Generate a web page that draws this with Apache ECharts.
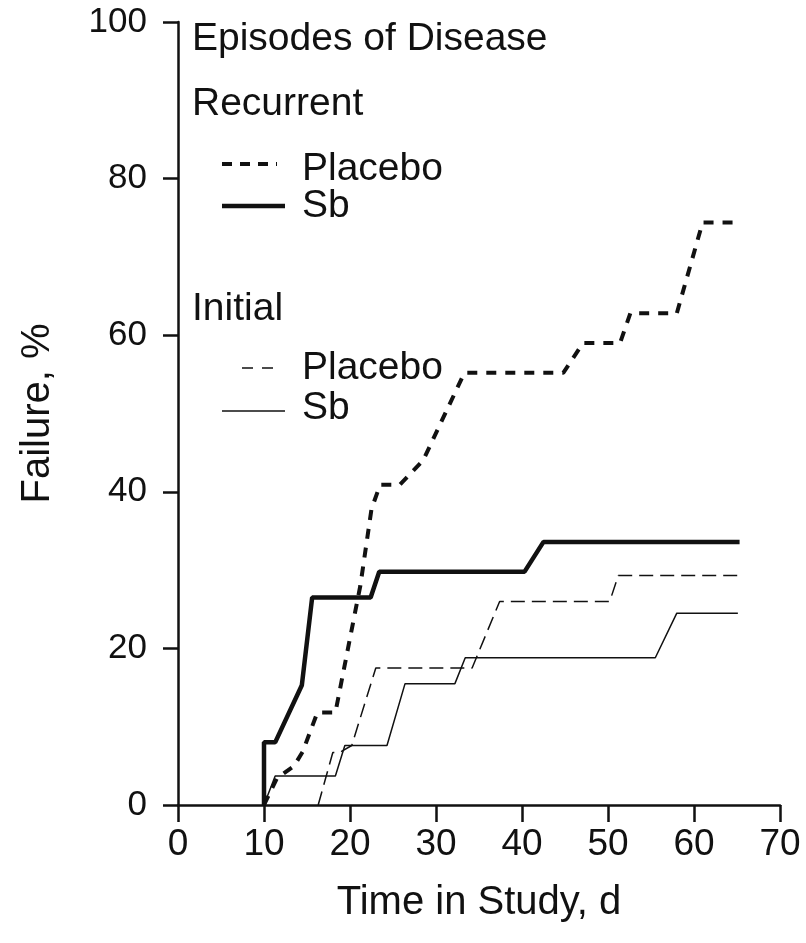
<!DOCTYPE html>
<html>
<head>
<meta charset="utf-8">
<title>Episodes of Disease</title>
<script src="https://cdn.jsdelivr.net/npm/echarts@6/dist/echarts.min.js"></script>
<style>
  html, body { margin: 0; padding: 0; background: #fff; }
  #chart { width: 806px; height: 943px; }
</style>
</head>
<body>
<div id="chart"></div>
<script>
  // values (day, failure %)
  const recurrentPlaceboDays = [10, 11.5, 13.5, 14.5, 16.2, 18.3, 21.2, 22.5, 23.5, 25.8, 28.5, 33.3, 44.8, 47.1, 51.4, 52.6, 58, 61, 65.3];
  const recurrentPlaceboFail = [0, 3.4, 5, 6.8, 11.8, 11.8, 28, 37.8, 40.9, 40.9, 44, 55.2, 55.2, 59, 59, 62.8, 62.8, 74.4, 74.4];

  const recurrentSbDays = [10, 10, 11.3, 14.4, 15.6, 22.4, 23.4, 40.3, 42.5, 65.3];
  const recurrentSbFail = [0, 8, 8, 15.3, 26.5, 26.5, 29.8, 29.8, 33.6, 33.6];

  const initialPlaceboDays = [16.3, 18, 18.8, 20.2, 23, 34.2, 37.4, 50.2, 51.2, 65.1];
  const initialPlaceboFail = [0, 6.7, 6.7, 7.6, 17.5, 17.5, 26, 26, 29.3, 29.3];

  const initialSbDays = [10, 11.3, 18.3, 19.4, 24.3, 26.4, 32.2, 33.4, 55.5, 58, 65.1];
  const initialSbFail = [0, 3.7, 3.7, 7.6, 7.6, 15.5, 15.5, 18.8, 18.8, 24.5, 24.5];

  const xTicks = [0, 10, 20, 30, 40, 50, 60, 70];
  const yTicks = [0, 20, 40, 60, 80, 100];

  const font = '"Liberation Sans", Arial, Helvetica, sans-serif';
  const ink = '#111';

  function pairs(xs, ys) {
    return xs.map(function (x, i) { return [x, ys[i]]; });
  }

  let chart = echarts.init(document.getElementById('chart'));

  // legend is hand placed, like the printed figure
  let legendText = function (txt, x, y) {
    return {
      type: 'text', x: x, y: y,
      style: { text: txt, font: '39px ' + font, fill: ink, verticalAlign: 'middle' }
    };
  };
  let legendLine = function (x1, x2, y, width, dash) {
    return {
      type: 'line',
      shape: { x1: x1, y1: y, x2: x2, y2: y },
      style: { stroke: ink, lineWidth: width, lineDash: dash || null }
    };
  };

  let option = {
    backgroundColor: '#fff',
    animation: false,
    grid: { left: 178, right: 26, top: 22, bottom: 138, containLabel: false },
    xAxis: {
      type: 'value',
      min: xTicks[0],
      max: xTicks[xTicks.length - 1],
      interval: 10,
      name: 'Time in Study, d',
      nameLocation: 'middle',
      nameGap: 78,
      nameTextStyle: { fontFamily: font, fontSize: 40, color: ink },
      axisLine: { lineStyle: { color: ink, width: 2.5 } },
      axisTick: { length: 17, lineStyle: { color: ink, width: 2.5 } },
      axisLabel: { margin: 21, fontFamily: font, fontSize: 37, color: ink },
      splitLine: { show: false }
    },
    yAxis: {
      type: 'value',
      min: yTicks[0],
      max: yTicks[yTicks.length - 1],
      interval: 20,
      name: 'Failure, %',
      nameLocation: 'middle',
      nameGap: 120,
      nameTextStyle: { fontFamily: font, fontSize: 40, color: ink },
      axisLine: { show: true, lineStyle: { color: ink, width: 2.5 } },
      axisTick: { show: true, length: 15, lineStyle: { color: ink, width: 2.5 } },
      axisLabel: { margin: 31, fontFamily: font, fontSize: 35, color: ink },
      splitLine: { show: false }
    },
    series: [
      {
        name: 'Recurrent Placebo', type: 'line', symbol: 'none',
        data: pairs(recurrentPlaceboDays, recurrentPlaceboFail),
        lineStyle: { color: ink, width: 4, type: [10, 9] }
      },
      {
        name: 'Recurrent Sb', type: 'line', symbol: 'none',
        data: pairs(recurrentSbDays, recurrentSbFail),
        lineStyle: { color: ink, width: 4.5 }
      },
      {
        name: 'Initial Placebo', type: 'line', symbol: 'none',
        data: pairs(initialPlaceboDays, initialPlaceboFail),
        lineStyle: { color: ink, width: 1.5, type: [14, 7] }
      },
      {
        name: 'Initial Sb', type: 'line', symbol: 'none',
        data: pairs(initialSbDays, initialSbFail),
        lineStyle: { color: ink, width: 1.5 }
      }
    ],
    graphic: [
      legendText('Episodes of Disease', 192, 39),
      legendText('Recurrent', 192, 104),
      legendLine(222, 277, 164, 4, [10, 8]),
      legendText('Placebo', 302, 169),
      legendLine(222, 285, 206, 4.5),
      legendText('Sb', 302, 206),
      legendText('Initial', 192, 309),
      legendLine(242, 274, 368, 1.5, [11, 9]),
      legendText('Placebo', 302, 368),
      legendLine(222, 285, 411, 1.5),
      legendText('Sb', 302, 408)
    ]
  };

  chart.setOption(option);
  window.addEventListener('resize', function () {
    chart.resize();
  });
</script>
</body>
</html>
